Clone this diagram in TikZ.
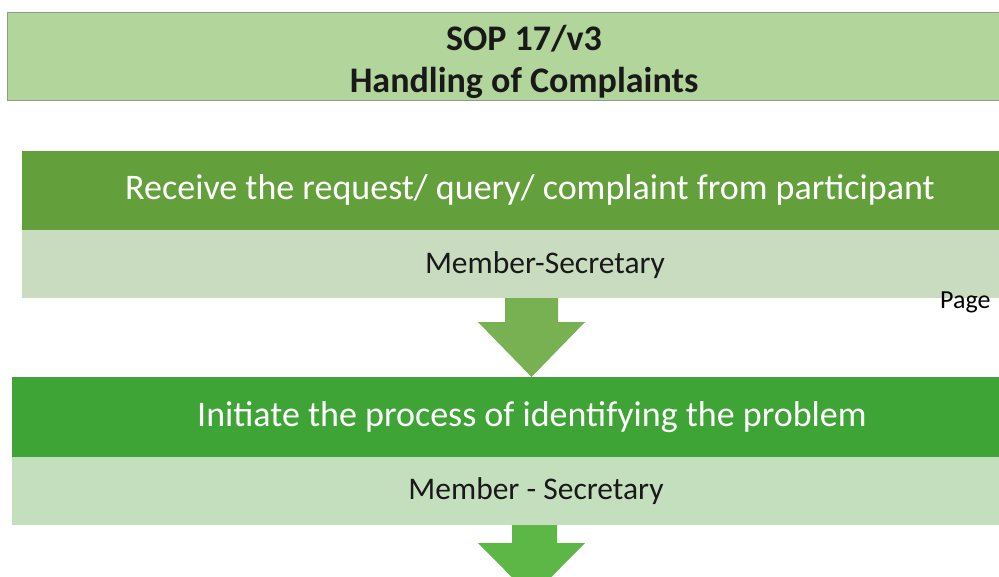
\documentclass[tikz,border=0pt]{standalone}
\usepackage{fontspec}
\setmainfont{Carlito}
\usetikzlibrary{calc}
\definecolor{titlefill}{HTML}{B2D59B}
\definecolor{titleedge}{HTML}{8E9E86}
\definecolor{stepone}{HTML}{63A03B}
\definecolor{steponelight}{HTML}{C9DCBF}
\definecolor{steptwo}{HTML}{3FA436}
\definecolor{steptwolight}{HTML}{C4DFBE}
\definecolor{arrowone}{HTML}{77B151}
\definecolor{arrowtwo}{HTML}{5DB746}
\tikzset{
  bar/.style={draw=none, inner sep=0pt, outer sep=0pt, anchor=north west},
  headtext/.style={font=\fontsize{36}{40}\selectfont, text=white},
  roletext/.style={font=\fontsize{31.5}{36}\selectfont, text=black!90},
  titletext/.style={font=\bfseries\fontsize{36}{40}\selectfont, text=black!90},
}
\begin{document}
\begin{tikzpicture}[x=1pt,y=-1pt]
  \useasboundingbox (0,0) rectangle (999,576);
  \clip (0,0) rectangle (999,576);
  \fill[white] (0,0) rectangle (999,576);

  % title banner
  \node[bar, fill=titlefill, draw=titleedge, line width=0.8pt,
        minimum width=1010pt, minimum height=88pt] (title) at (7,12) {};
  \node[titletext] (t1) at (524,39) {SOP 17/v3};
  \node[titletext] (t2) at (524,83) {Handling of Complaints};

  % step 1
  \node[bar, fill=stepone, minimum width=1000pt, minimum height=79pt] (s1) at (22,151) {};
  \node[bar, fill=steponelight, minimum width=1000pt, minimum height=68pt] (r1) at (22,230) {};
  \node[headtext] (s1t) at (530,190) {Receive the request/ query/ complaint from participant};
  \node[roletext] (r1t) at (545,265) {Member-Secretary};

  % page marker
  \node[font=\fontsize{26}{30}\selectfont, anchor=west, inner sep=0pt] (page) at (940,302) {Page};

  % step 2
  \node[bar, fill=steptwo, minimum width=1010pt, minimum height=80pt] (s2) at (12,377) {};
  \node[bar, fill=steptwolight, minimum width=1010pt, minimum height=68pt] (r2) at (12,457) {};
  \node[headtext] (s2t) at (532,417) {Initiate the process of identifying the problem};
  \node[roletext] (r2t) at (536,491) {Member - Secretary};

  % block arrows between the steps
  \fill[arrowone] (r1.south west -| 505,0) -- (558,0 |- r1.south west) -- (558,322) -- (585,322)
        -- (531.5,0 |- s2.north west) -- (478,322) -- (505,322) -- cycle;
  \fill[arrowtwo] (r2.south west -| 512,0) -- (557,0 |- r2.south west) -- (557,543) -- (585,543)
        -- (531.5,597) -- (478,543) -- (512,543) -- cycle;
\end{tikzpicture}
\end{document}
